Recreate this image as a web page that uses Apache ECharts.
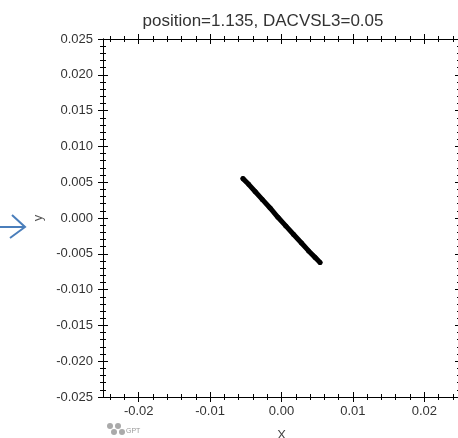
<!DOCTYPE html>
<html><head><meta charset="utf-8">
<script src="https://cdn.jsdelivr.net/npm/echarts@6/dist/echarts.min.js"></script>
<style>html,body{margin:0;padding:0;background:#fff}#c{width:458px;height:438px}</style>
</head><body><div id="c"></div>
<script>
const titleText = 'position=1.135, DACVSL3=0.05';
const xRange = [-0.025, 0.025];
const xMajor = [-0.02, -0.01, 0, 0.01, 0.02];
const xMinor = [-0.024, -0.022, -0.018, -0.016, -0.014, -0.012, -0.008, -0.006, -0.004, -0.002,
  0.002, 0.004, 0.006, 0.008, 0.012, 0.014, 0.016, 0.018, 0.022, 0.024];
const yTicks = [-0.025, 0.025, 0.005];
const ptsX = [-0.0054, -0.0046, -0.0037, -0.0027, -0.0016, -0.0005, 0.0006, 0.0017, 0.0028, 0.0038, 0.0047, 0.0054];
const ptsY = [0.0055, 0.0047, 0.0037, 0.0026, 0.0014, 0.0001, -0.0011, -0.0023, -0.0035, -0.0046, -0.0055, -0.0062];

const chart = echarts.init(document.getElementById('c'));
const font = 'Liberation Sans, Arial, sans-serif';
const lineStyle = {color:'#000', width:1};
function xa(pos, inside, labels, minor){
  return {type:'value', position:pos, min:xRange[0], max:xRange[1],
    axisLine:{show:true, onZero:false, lineStyle},
    axisTick:{show:true, inside:inside, length:minor?3:5, lineStyle, customValues: minor ? xMinor : xMajor},
    splitLine:{show:false},
    axisLabel:{show:labels, color:'#333', fontFamily:font, fontSize:13, margin:8,
      customValues: xMajor, formatter:v=>v.toFixed(2)},
    name: labels ? 'X' : '', nameLocation:'middle', nameGap:32,
    nameTextStyle:{color:'#444', fontFamily:font, fontSize:13}};
}
function ya(pos, inside, labels){
  return {type:'value', position:pos, min:yTicks[0], max:yTicks[1], interval:yTicks[2],
    axisLine:{show:true, onZero:false, lineStyle},
    axisTick:{show:true, inside:inside, length:5, lineStyle},
    minorTick:{show:true, splitNumber:5, length:3, lineStyle},
    splitLine:{show:false}, minorSplitLine:{show:false},
    axisLabel:{show:labels, color:'#333', fontFamily:font, fontSize:13, margin:10,
      formatter:v=>v.toFixed(3)},
    name: labels ? 'y' : '', nameLocation:'middle', nameGap:49, nameRotate:90,
    nameTextStyle:{color:'#555', fontFamily:font, fontSize:13}};
}
chart.setOption({
  animation:false,
  backgroundColor:'#fff',
  title:{text:titleText, left:258, top:8, textAlign:'center',
    textStyle:{fontFamily:font, fontSize:17, fontWeight:'normal', color:'#333'}},
  grid:{left:103, top:39, width:357, height:358, containLabel:false, outerBoundsMode:'none'},
  xAxis:[xa('bottom', false, true, false), xa('bottom', true, false, false),
         xa('bottom', false, false, true), xa('bottom', true, false, true),
         xa('top', false, false, false), xa('top', true, false, false),
         xa('top', false, false, true), xa('top', true, false, true)],
  yAxis:[ya('left', false, true), ya('left', true, false), ya('right', true, false)],
  series:[{type:'line', data:ptsX.map((x,i)=>[x, ptsY[i]]), symbol:'none', smooth:false,
    lineStyle:{color:'#000', width:5, cap:'round', join:'round'}},
    {type:'scatter', data:ptsX.map((x,i)=>[x, ptsY[i]]), symbolSize:5, itemStyle:{color:'#000'}}],
  graphic:[
    {type:'polyline', shape:{points:[[0,227],[24,227]]}, style:{stroke:'#4a7ebb', lineWidth:2, fill:null}},
    {type:'polyline', shape:{points:[[12,215],[25,227],[10,238]]}, style:{stroke:'#4a7ebb', lineWidth:2, fill:null}},
    {type:'text', left:126, top:428, style:{text:'GPT', fill:'#999', font:'7px '+font}},
    {type:'circle', shape:{cx:110, cy:426, r:3}, style:{fill:'#aaa'}},
    {type:'circle', shape:{cx:118, cy:426, r:3}, style:{fill:'#aaa'}},
    {type:'circle', shape:{cx:114, cy:432, r:3}, style:{fill:'#aaa'}},
    {type:'circle', shape:{cx:122, cy:432, r:3}, style:{fill:'#aaa'}}
  ]
});
</script></body></html>
